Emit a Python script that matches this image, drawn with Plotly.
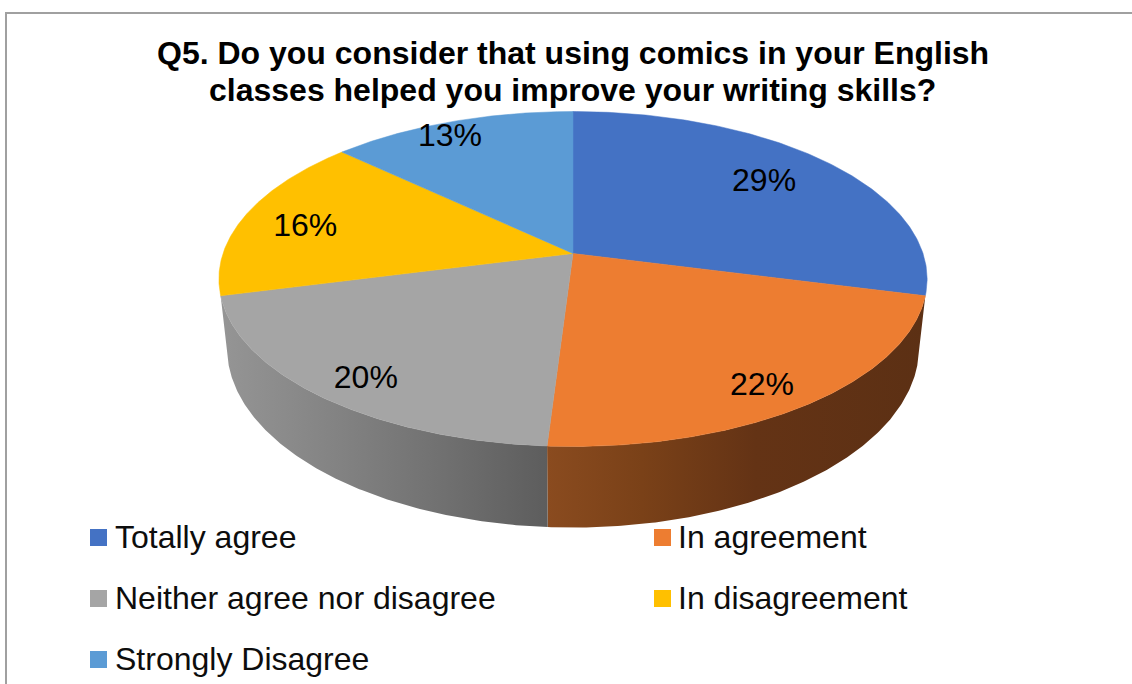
import numpy as np
import plotly.graph_objects as go

# Survey results
TITLE_LINES = ["Q5. Do you consider that using comics in your English",
               "classes helped you improve your writing skills?"]
categories = ["Totally agree", "In agreement", "Neither agree nor disagree",
              "In disagreement", "Strongly Disagree"]
percentages = [29, 22, 20, 16, 13]
colors = ["#4472C4", "#ED7D31", "#A5A5A5", "#FFC000", "#5B9BD5"]

# Placement of each percentage label: fraction of the radius, and a small
# turn (degrees) away from the middle of its slice
label_radius = [0.757, 0.861, 0.862, 0.805, 0.90]
label_turn = [-1.5, 2.0, -1.6, -1.8, -2.6]
LABEL_DROP = 2.5

# Perspective tilt of the disc: top face and the rim's lower edge
TOP = dict(cx=573.0, cy=253.5, a=350.0, b=163.6, k=0.1522)
BOTTOM = dict(cx=573.0, cy=320.0, a=342.0, b=176.0, k=0.1522)
FONT = "Liberation Sans"


def project(theta, r, d):
    """Map a point on the tilted disc (clockwise from 12 o'clock) to canvas units."""
    u, v = r * np.sin(theta), r * np.cos(theta)
    w = 1 + d["k"] * v
    return d["cx"] + d["a"] * u / w, d["cy"] - d["b"] * v / w


edges = 2 * np.pi * np.concatenate([[0], np.cumsum(percentages)]) / sum(percentages)
fig = go.Figure()

# Visible rim sections, with their shading running left to right
rim_shades = {
    1: [[0, "#8A4B1F"], [0.25, "#7A4118"], [0.55, "#643315"], [1, "#5C3014"]],
    2: [[0, "#959595"], [0.35, "#838383"], [0.65, "#727272"], [1, "#5D5D5D"]],
}
for i, scale in rim_shades.items():
    t = np.linspace(edges[i], edges[i + 1], 160)
    xt, yt = project(t, 1.0, TOP)
    xb, yb = project(t, 1.0, BOTTOM)
    fig.add_trace(go.Scatter(
        x=np.concatenate([xt, xb[::-1]]), y=np.concatenate([yt, yb[::-1]]),
        mode="lines", line=dict(width=0), fill="toself",
        fillgradient=dict(type="horizontal", colorscale=scale),
        hoverinfo="skip", showlegend=False))

# Top face of each slice
for i, c in enumerate(colors):
    t = np.linspace(edges[i], edges[i + 1], 160)
    xa, ya = project(t, 1.0, TOP)
    x0, y0 = project(0.0, 0.0, TOP)
    fig.add_trace(go.Scatter(
        x=np.concatenate([[x0], xa, [x0]]), y=np.concatenate([[y0], ya, [y0]]),
        mode="lines", line=dict(width=0.5, color=c), fill="toself", fillcolor=c,
        name=categories[i], text=f"{percentages[i]}%", hoverinfo="name+text",
        showlegend=False))

# Percentage labels
mids = (edges[:-1] + edges[1:]) / 2 + np.radians(label_turn)
lx, ly = zip(*(project(m, r, TOP) for m, r in zip(mids, label_radius)))
fig.add_trace(go.Scatter(
    x=lx, y=np.array(ly) + LABEL_DROP, mode="text", text=[f"{p}%" for p in percentages],
    textposition="middle center", textfont=dict(family=FONT, size=32, color="#000000"),
    hoverinfo="skip", showlegend=False))

# Key below the disc: two columns, filled row by row
key_x = [98.5, 662.5]
key_text_x = [112.5, 675.5]
key_y = [537.5, 598.5, 659.5]
annotations = []
for i, (name, c) in enumerate(zip(categories, colors)):
    col, row = i % 2, i // 2
    fig.add_trace(go.Scatter(
        x=[key_x[col]], y=[key_y[row]], mode="markers",
        marker=dict(symbol="square", size=17, color=c, line=dict(width=0)),
        name=name, hoverinfo="name", showlegend=False))
    annotations.append(dict(
        x=key_text_x[col], y=key_y[row] - 1, text=name, showarrow=False,
        xanchor="left", yanchor="middle",
        font=dict(family=FONT, size=32, color="#0D0D0D")))

annotations += [dict(x=572.5, y=yc, text=line, showarrow=False, xanchor="center",
                     yanchor="middle",
                     font=dict(family=FONT, size=32, color="#000000", weight="bold"))
                for line, yc in zip(TITLE_LINES, [53, 90])]

fig.update_layout(
    width=1132, height=684, margin=dict(l=0, r=0, t=0, b=0),
    paper_bgcolor="white", plot_bgcolor="white", showlegend=False,
    xaxis=dict(range=[0, 1132], visible=False, fixedrange=True),
    yaxis=dict(range=[684, 0], visible=False, fixedrange=True),
    shapes=[dict(type="line", x0=6, x1=6, y0=12, y1=684,
                 line=dict(color="#A0A0A0", width=2)),
            dict(type="line", x0=5, x1=1132, y0=13, y1=13,
                 line=dict(color="#A0A0A0", width=2))],
    annotations=annotations,
)

fig.write_html("out.html", config=dict(displayModeBar=False))
